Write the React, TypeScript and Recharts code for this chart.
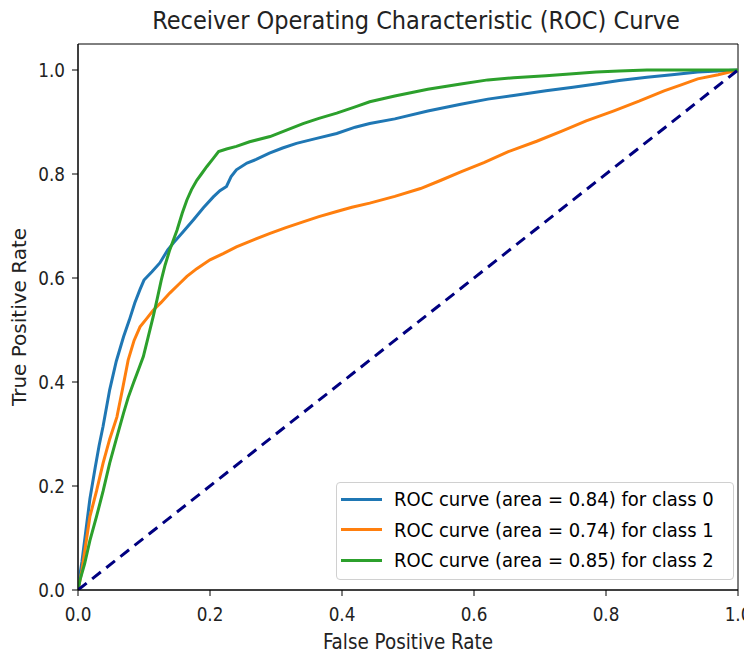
import { LineChart, Line, XAxis, YAxis, ReferenceArea } from "recharts";

// ROC points, one array pair per class
const class0Fpr = [0, 0.003, 0.006, 0.012, 0.018, 0.026, 0.032, 0.038, 0.048, 0.058, 0.069, 0.078, 0.086, 0.094, 0.1, 0.112, 0.124, 0.136, 0.145, 0.16, 0.175, 0.19, 0.205, 0.215, 0.225, 0.232, 0.24, 0.256, 0.27, 0.29, 0.31, 0.331, 0.36, 0.392, 0.42, 0.442, 0.48, 0.53, 0.58, 0.621, 0.66, 0.709, 0.75, 0.785, 0.82, 0.862, 0.9, 0.939, 0.97, 1];
const class0Tpr = [0, 0.03, 0.055, 0.115, 0.175, 0.235, 0.278, 0.315, 0.385, 0.44, 0.487, 0.52, 0.552, 0.578, 0.596, 0.612, 0.629, 0.654, 0.668, 0.69, 0.712, 0.735, 0.756, 0.768, 0.776, 0.795, 0.808, 0.821, 0.828, 0.84, 0.85, 0.859, 0.868, 0.878, 0.89, 0.897, 0.906, 0.921, 0.934, 0.944, 0.951, 0.96, 0.967, 0.973, 0.98, 0.986, 0.991, 0.996, 0.998, 1];

const class1Fpr = [0, 0.006, 0.012, 0.018, 0.028, 0.038, 0.048, 0.059, 0.068, 0.076, 0.085, 0.094, 0.104, 0.114, 0.126, 0.139, 0.152, 0.165, 0.18, 0.2, 0.22, 0.24, 0.265, 0.291, 0.315, 0.341, 0.365, 0.392, 0.415, 0.442, 0.48, 0.519, 0.55, 0.58, 0.615, 0.652, 0.695, 0.734, 0.77, 0.811, 0.85, 0.888, 0.915, 0.939, 0.97, 1];
const class1Tpr = [0, 0.038, 0.09, 0.141, 0.19, 0.244, 0.29, 0.333, 0.39, 0.442, 0.48, 0.506, 0.522, 0.538, 0.553, 0.571, 0.587, 0.603, 0.618, 0.635, 0.647, 0.66, 0.673, 0.686, 0.697, 0.708, 0.718, 0.728, 0.736, 0.744, 0.757, 0.772, 0.788, 0.804, 0.822, 0.843, 0.863, 0.883, 0.902, 0.921, 0.94, 0.96, 0.972, 0.983, 0.991, 1];

const class2Fpr = [0, 0.003, 0.01, 0.018, 0.028, 0.038, 0.048, 0.058, 0.069, 0.076, 0.084, 0.092, 0.099, 0.106, 0.114, 0.12, 0.126, 0.132, 0.139, 0.15, 0.158, 0.165, 0.172, 0.18, 0.187, 0.195, 0.205, 0.213, 0.225, 0.24, 0.26, 0.291, 0.315, 0.341, 0.365, 0.392, 0.42, 0.442, 0.48, 0.53, 0.58, 0.621, 0.66, 0.709, 0.75, 0.785, 0.82, 0.862, 1];
const class2Tpr = [0, 0.019, 0.05, 0.095, 0.141, 0.19, 0.244, 0.29, 0.34, 0.37, 0.398, 0.425, 0.449, 0.485, 0.526, 0.56, 0.595, 0.625, 0.654, 0.692, 0.725, 0.75, 0.77, 0.788, 0.8, 0.814, 0.83, 0.843, 0.848, 0.853, 0.862, 0.872, 0.884, 0.897, 0.907, 0.917, 0.929, 0.939, 0.95, 0.963, 0.973, 0.981, 0.985, 0.989, 0.993, 0.996, 0.998, 1, 1];

const chanceFpr = [0, 1];
const chanceTpr = [0, 1];

const axisTicks = [0, 0.2, 0.4, 0.6, 0.8, 1.0];

const classNames = ["class 0", "class 1", "class 2"];
const classAreas = [0.84, 0.74, 0.85];
const classColors = ["#1f77b4", "#ff7f0e", "#2ca02c"];

const zip = (xs: number[], ys: number[]) => xs.map((x, i) => ({ fpr: x, tpr: ys[i] }));

const curves = [
  zip(class0Fpr, class0Tpr),
  zip(class1Fpr, class1Tpr),
  zip(class2Fpr, class2Tpr),
];
const chance = zip(chanceFpr, chanceTpr);

// reference text looks horizontally squeezed, so the condensed face fits it best
const narrow = "'DejaVu Sans Condensed', 'DejaVu Sans', sans-serif";
const regular = "'DejaVu Sans', sans-serif";

function RocLegend() {
  return (
    <div
      style={{
        position: "absolute",
        left: 328,
        top: 474,
        width: 396,
        height: 96,
        border: "1px solid #d0d0d0",
        borderRadius: 4,
        background: "rgba(255,255,255,0.8)",
        fontFamily: narrow,
        fontSize: 20,
        color: "#000",
      }}
    >
      {classNames.map((name, i) => (
        <div
          key={name}
          style={{ position: "absolute", left: 0, top: 1 + i * 30.5, height: 30, display: "flex", alignItems: "center", whiteSpace: "nowrap" }}
        >
          <span style={{ display: "inline-block", width: 41, height: 3, background: classColors[i], marginLeft: 4, marginRight: 12 }} />
          <span>{`ROC curve (area = ${classAreas[i].toFixed(2)}) for ${name}`}</span>
        </div>
      ))}
    </div>
  );
}

export default function App() {
  const tickStyle = { fill: "#222", fontSize: 18.7, fontFamily: narrow };
  return (
    <div style={{ position: "relative", width: 744, height: 646 }}>
      <LineChart width={744} height={646} margin={{ top: 36, right: 14, bottom: 4, left: 0 }} style={{ overflow: "visible" }}>
        <XAxis
          dataKey="fpr"
          type="number"
          domain={[0, 1]}
          ticks={axisTicks}
          tickFormatter={(v: number) => v.toFixed(1)}
          allowDataOverflow
          height={60}
          tickSize={6}
          tickMargin={12}
          stroke="#000"
          tick={tickStyle}
          label={{ value: "False Positive Rate", position: "insideBottom", offset: 1, fill: "#222", fontSize: 20.4, fontFamily: narrow }}
        />
        <YAxis
          type="number"
          domain={[0, 1.05]}
          ticks={axisTicks}
          tickFormatter={(v: number) => v.toFixed(1)}
          allowDataOverflow
          width={70}
          tickSize={6}
          tickMargin={7}
          stroke="#000"
          tick={tickStyle}
          label={{
            value: "True Positive Rate",
            angle: -90,
            position: "insideLeft",
            offset: 11,
            fill: "#222",
            fontSize: 20,
            fontFamily: regular,
            style: { textAnchor: "middle" },
          }}
        />
        <ReferenceArea x1={0} x2={1} y1={0} y2={1.05} fill="none" stroke="#000" strokeWidth={1} ifOverflow="visible" />
        {curves.map((c, i) => (
          <Line
            key={classNames[i]}
            data={c}
            dataKey="tpr"
            type="linear"
            stroke={classColors[i]}
            strokeWidth={3}
            dot={false}
            isAnimationActive={false}
          />
        ))}
        <Line
          data={chance}
          dataKey="tpr"
          type="linear"
          stroke="#000080"
          strokeWidth={3}
          strokeDasharray="11 7"
          dot={false}
          isAnimationActive={false}
        />
      </LineChart>
      <div
        style={{
          position: "absolute",
          top: -2,
          left: 0,
          width: 816,
          textAlign: "center",
          fontFamily: narrow,
          fontSize: 25,
          lineHeight: "30px",
          color: "#222",
          whiteSpace: "nowrap",
        }}
      >
        Receiver Operating Characteristic (ROC) Curve
      </div>
      <RocLegend />
    </div>
  );
}
